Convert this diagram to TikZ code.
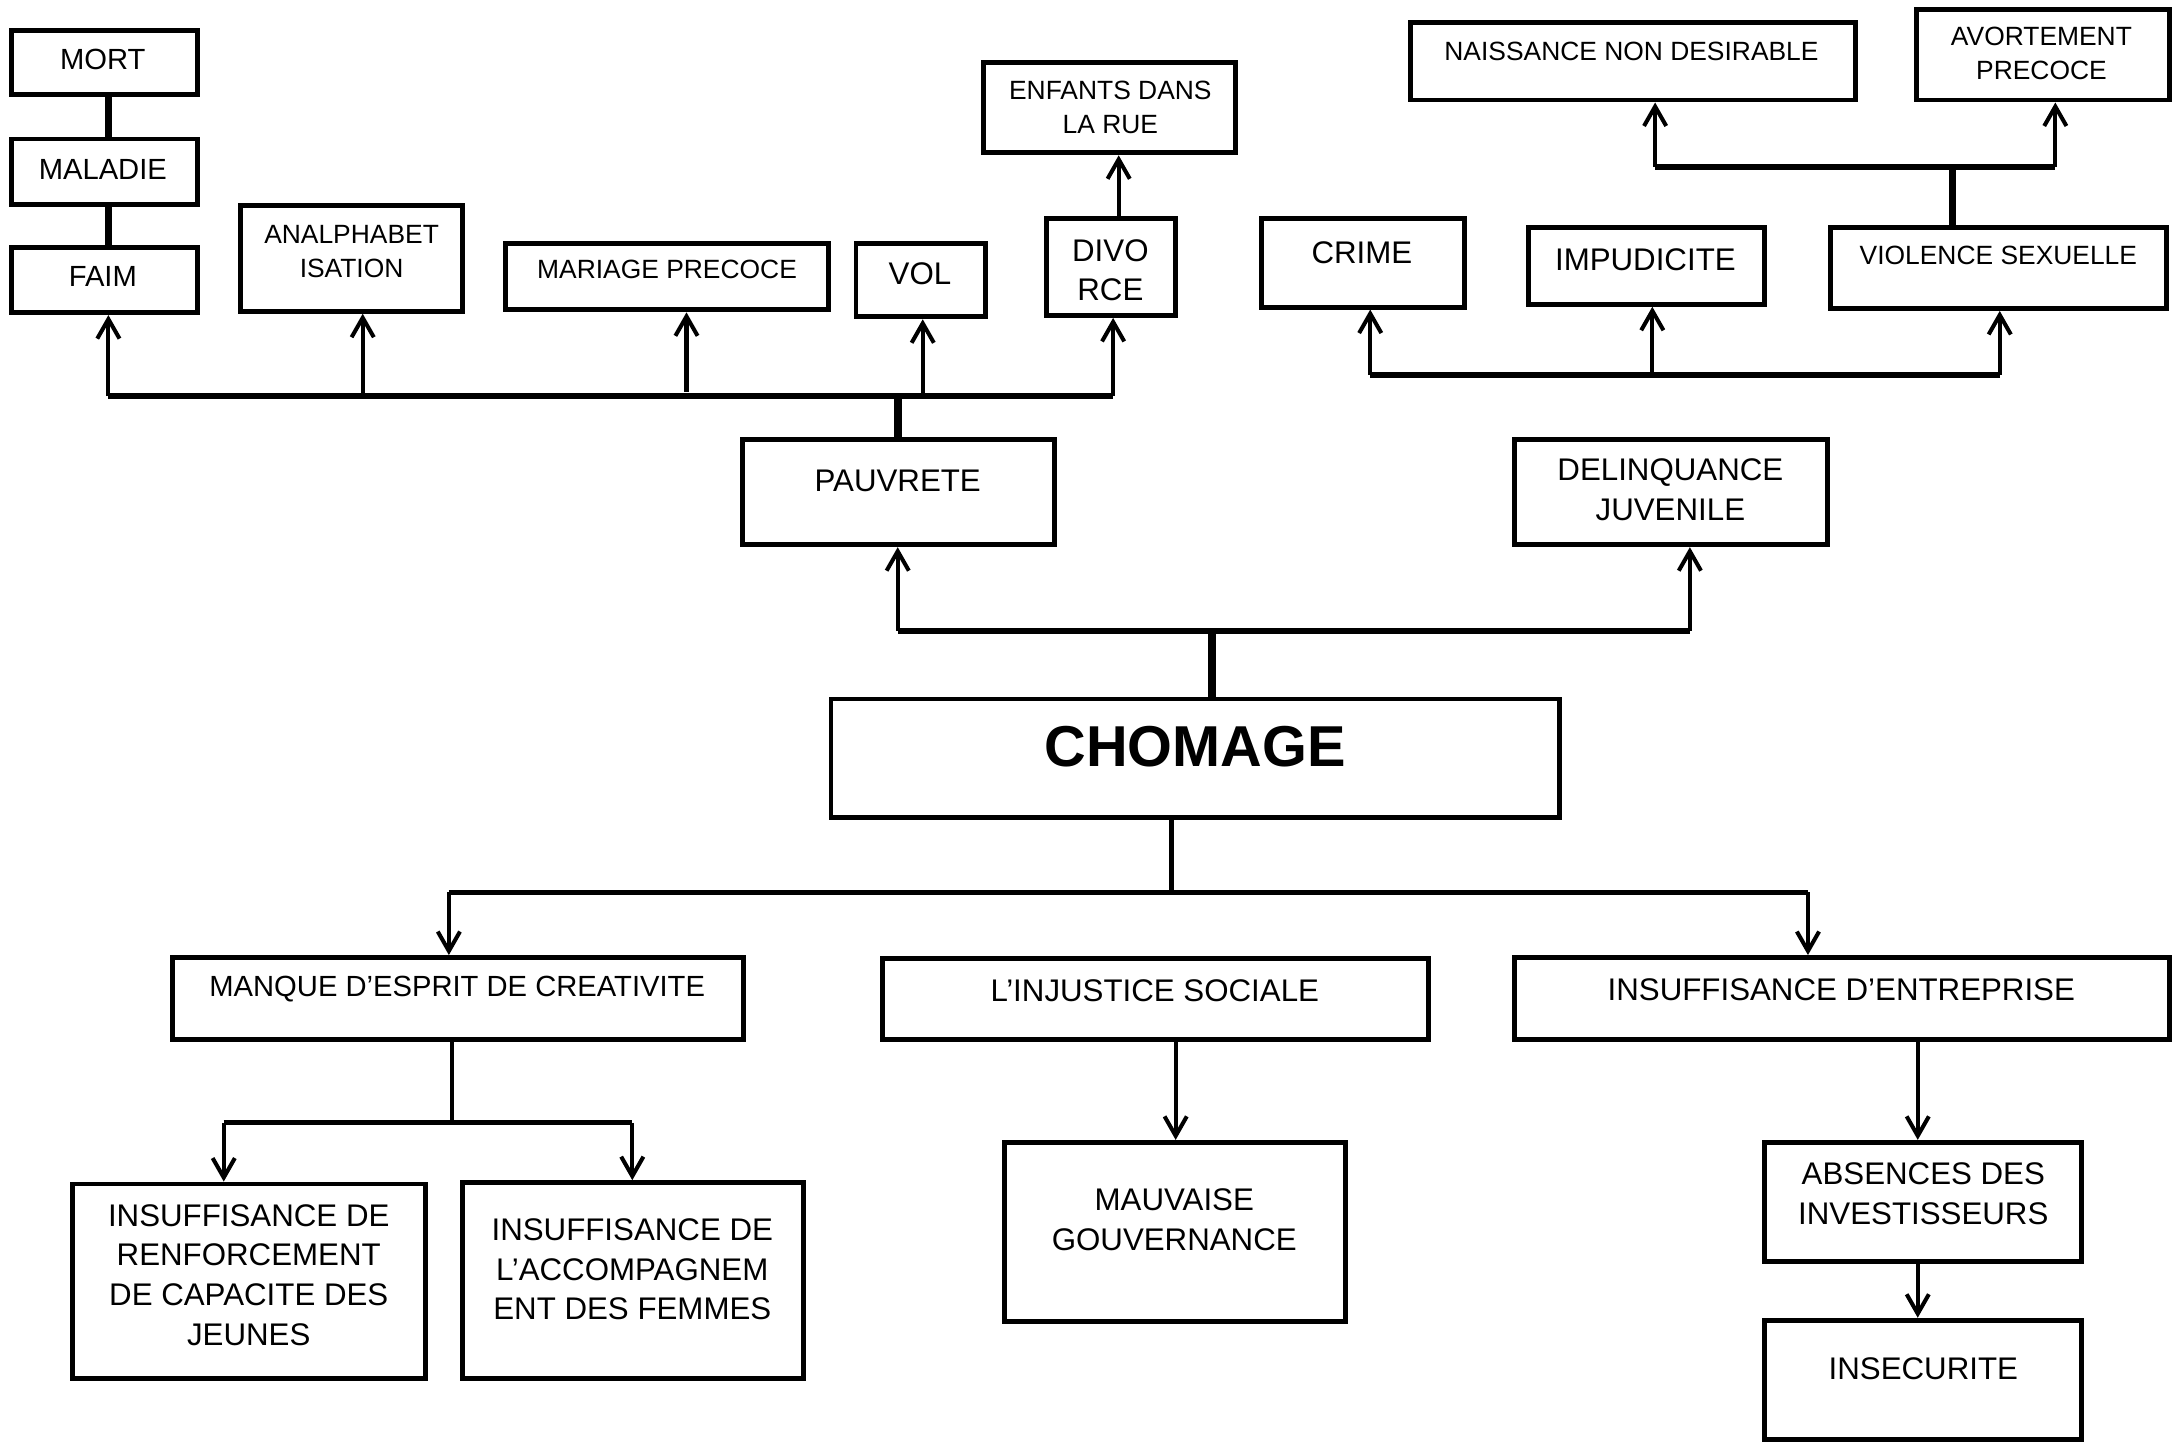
\documentclass[tikz,border=0pt]{standalone}
\usepackage{fontspec}
\setmainfont{Liberation Sans}
\usetikzlibrary{fit,arrows.meta}

\tikzset{
  box/.style={draw, line width=3.5pt, inner sep=0pt},
  sm/.style={font=\fontsize{19}{24.5}\selectfont, align=center, inner sep=0pt},
  md/.style={font=\fontsize{21}{26.5}\selectfont, align=center, inner sep=0pt},
  lg/.style={font=\fontsize{22.5}{28.5}\selectfont, align=center, inner sep=0pt},
  hg/.style={font=\fontsize{41.5}{48}\selectfont\bfseries, inner sep=0pt},
  arr/.style={line width=2.9pt, -{Straight Barb[length=14pt,width=16pt,line width=2.9pt]}},
  bar/.style={line width=4pt},
  thinbar/.style={line width=3.5pt},
  stem/.style={line width=5.5pt},
  plain/.style={line width=2.9pt},
}
% rectangle given by two opposite corners
\newcommand\rbox[5]{\node[box, fit={(#2,#3) (#4,#5)}] (#1) {};}

\begin{document}
\begin{tikzpicture}[x=1pt, y=-1pt]
\useasboundingbox (0,0) rectangle (1568,1041);

% ---------- boxes ----------
\rbox{mort}{8}{22}{142}{68}
\rbox{maladie}{8}{100}{142}{147}
\rbox{faim}{8}{178}{142}{225}
\rbox{analpha}{173}{148}{333}{224}
\rbox{mariage}{364}{175}{596}{223}
\rbox{vol}{616}{175}{709}{228}
\rbox{divorce}{753}{157}{846}{227}
\rbox{enfants}{708}{45}{889}{110}
\rbox{pauvrete}{534}{316}{759}{392}
\rbox{delinq}{1090}{316}{1315}{392}
\rbox{chomage}{598}{503}{1122}{588}
\rbox{crime}{908}{157}{1054}{221}
\rbox{impud}{1100}{164}{1270}{219}
\rbox{violence}{1317}{164}{1559}{222}
\rbox{naissance}{1015}{16}{1335}{72}
\rbox{avort}{1379}{7}{1561}{72}
\rbox{manque}{124}{689}{535}{748}
\rbox{injustice}{635}{690}{1028}{748}
\rbox{entreprise}{1090}{689}{1561}{748}
\rbox{renf}{52}{852}{306}{992}
\rbox{accomp}{333}{851}{578}{992}
\rbox{mauvaise}{723}{822}{968}{951}
\rbox{absences}{1270}{822}{1498}{908}
\rbox{insecurite}{1270}{950}{1498}{1036}

% ---------- texts ----------
\node[md] (mort-t) at (74,43) {MORT};
\node[md] (maladie-t) at (74,122) {MALADIE};
\node[md] (faim-t) at (74,199) {FAIM};
\node[sm] (analpha-t) at (253,181) {ANALPHABET\\ISATION};
\node[sm] (mariage-t) at (480,194) {MARIAGE PRECOCE};
\node[lg] (vol-t) at (662,197) {VOL};
\node[lg] (divorce-t) at (799,194.5) {DIVO\\RCE};
\node[sm] (enfants-t) at (799,77.5) {ENFANTS DANS\\LA RUE};
\node[lg] (pauvrete-t) at (646,346) {PAUVRETE};
\node[lg] (delinq-t) at (1202,352.5) {DELINQUANCE\\JUVENILE};
\node[hg] (chomage-t) at (860,537) {CHOMAGE};
\node[lg] (crime-t) at (980,182) {CRIME};
\node[lg] (impud-t) at (1184,187) {IMPUDICITE};
\node[sm] (violence-t) at (1438,184) {VIOLENCE SEXUELLE};
\node[sm] (naissance-t) at (1174,37) {NAISSANCE NON DESIRABLE};
\node[sm] (avort-t) at (1469,38.5) {AVORTEMENT\\PRECOCE};
\node[md] (manque-t) at (329,712) {MANQUE D’ESPRIT DE CREATIVITE};
\node[lg] (injustice-t) at (831,713) {L’INJUSTICE SOCIALE};
\node[lg] (entreprise-t) at (1325,712) {INSUFFISANCE D’ENTREPRISE};
\node[lg] (renf-t) at (179,917.5) {INSUFFISANCE DE\\RENFORCEMENT\\DE CAPACITE DES\\JEUNES};
\node[lg] (accomp-t) at (455,913.5) {INSUFFISANCE DE\\L’ACCOMPAGNEM\\ENT DES FEMMES};
\node[lg] (mauvaise-t) at (845,877.5) {MAUVAISE\\GOUVERNANCE};
\node[lg] (absences-t) at (1384,859) {ABSENCES DES\\INVESTISSEURS};
\node[lg] (insecurite-t) at (1384,985) {INSECURITE};

% ---------- left column chain ----------
\coordinate (xM) at (78,0);
\draw[stem] (mort.south -| xM) -- (maladie.north -| xM);
\draw[stem] (maladie.south -| xM) -- (faim.north -| xM);

% ---------- consequences of poverty ----------
\coordinate (jFaim) at (78,285);
\coordinate (jAna) at (261,285);
\coordinate (jMar) at (494,282);
\coordinate (jVol) at (664,285);
\coordinate (jDiv) at (801,285);
\coordinate (jPau) at (646,285);
\draw[bar] (jFaim) -- (jDiv);
\draw[stem] (pauvrete.north -| jPau) -- (jPau);
\draw[arr] (jFaim) -- (jFaim |- faim.south);
\draw[arr] (jAna) -- (jAna |- analpha.south);
\draw[arr] (jMar) -- (jMar |- mariage.south);
\draw[arr] (jVol) -- (jVol |- vol.south);
\draw[arr] (jDiv) -- (jDiv |- divorce.south);
\coordinate (xDE) at (805,0);
\draw[arr] (divorce.north -| xDE) -- (enfants.south -| xDE);

% ---------- consequences of unemployment ----------
\coordinate (jP2) at (646,454);
\coordinate (jD2) at (1216,454);
\coordinate (jC) at (872,454);
\draw[bar] (jP2) -- (jD2);
\draw[stem] (chomage.north -| jC) -- (jC);
\draw[arr] (jP2) -- (jP2 |- pauvrete.south);
\draw[arr] (jD2) -- (jD2 |- delinq.south);

% ---------- consequences of delinquency ----------
\coordinate (jCr) at (986,270);
\coordinate (jIm) at (1189,268);
\coordinate (jVi) at (1439,270);
\draw[bar] (jCr) -- (jVi);
\draw[arr] (jCr) -- (jCr |- crime.south);
\draw[arr] (jIm) -- (jIm |- impud.south);
\draw[arr] (jVi) -- (jVi |- violence.south);

\coordinate (jV2) at (1405,120);
\coordinate (jN) at (1191,120);
\coordinate (jAv) at (1479,120);
\draw[stem] (violence.north -| jV2) -- (jV2);
\draw[bar] (jN) -- (jAv);
\draw[arr] (jN) -- (jN |- naissance.south);
\draw[arr] (jAv) -- (jAv |- avort.south);

% ---------- causes ----------
\coordinate (jC2) at (843,642);
\coordinate (jMq) at (323,642);
\coordinate (jEn) at (1301,642);
\draw[plain] (chomage.south -| jC2) -- (jC2);
\draw[thinbar] (jMq) -- (jEn);
\draw[arr] (jMq) -- (jMq |- manque.north);
\draw[arr] (jEn) -- (jEn |- entreprise.north);

\coordinate (jM2) at (325,808);
\coordinate (jR) at (161,808);
\coordinate (jA) at (455,808);
\draw[plain] (manque.south -| jM2) -- (jM2);
\draw[thinbar] (jR) -- (jA);
\draw[arr] (jR) -- (jR |- renf.north);
\draw[arr] (jA) -- (jA |- accomp.north);

\coordinate (xIn) at (846,0);
\draw[arr] (injustice.south -| xIn) -- (mauvaise.north -| xIn);

\coordinate (xEn) at (1380,0);
\draw[arr] (entreprise.south -| xEn) -- (absences.north -| xEn);
\draw[arr] (absences.south -| xEn) -- (insecurite.north -| xEn);
\end{tikzpicture}
\end{document}
